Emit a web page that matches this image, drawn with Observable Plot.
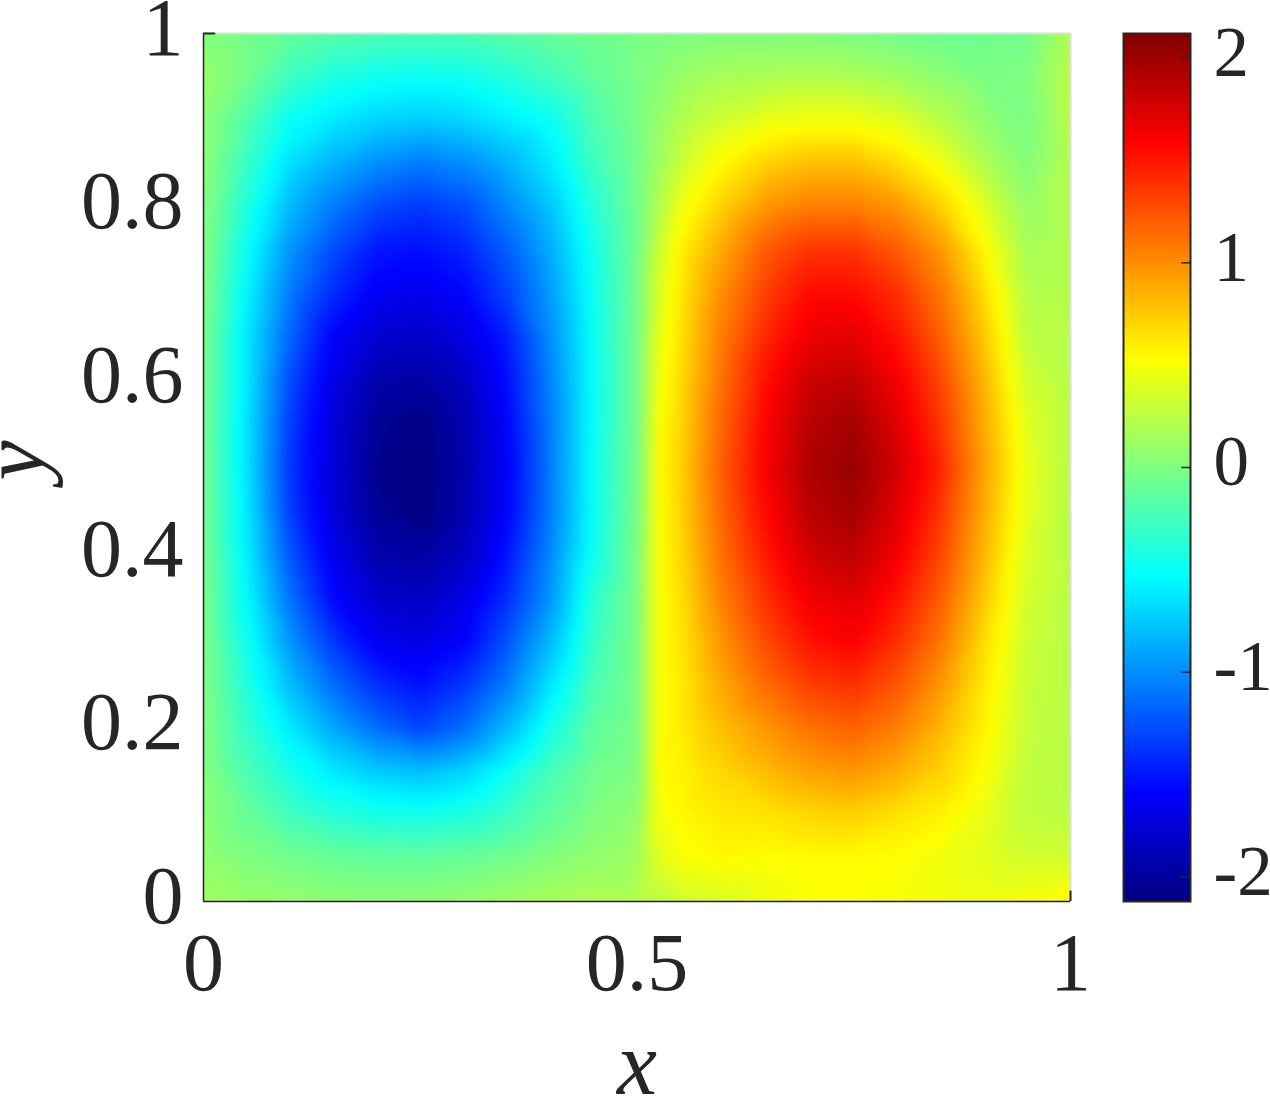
<!DOCTYPE html>
<html>
<head>
<meta charset="utf-8">
<script src="https://cdn.jsdelivr.net/npm/d3@7"></script>
<script src="https://cdn.jsdelivr.net/npm/@observablehq/plot@0.6"></script>
<style>
html,body{margin:0;padding:0;background:#fff;overflow:hidden}
#chart{position:relative;width:1270px;height:1096px;overflow:hidden}
#chart svg{position:absolute;top:0;background:transparent}
</style>
</head>
<body>
<div id="chart"></div>
<script>
// Field values, one list per row of constant y.
const xs = [0,.05,.1,.15,.2,.25,.3,.35,.4,.45,.5,.525,.55,.6,.65,.7,.75,.8,.85,.9,.95,1];
const y100 = [0,-.05,-.12,-.18,-.2,-.22,-.2,-.15,-.1,-.05,-.03,-.03,-.02,0,0,0,-.02,-.05,-.07,-.07,-.05,.2];
const y095 = [.1,-.05,-.28,-.4,-.47,-.49,-.47,-.38,-.26,-.12,-.02,.03,.1,.17,.19,.2,.19,.14,.06,-.02,0,.25];
const y090 = [.05,-.2,-.5,-.62,-.71,-.74,-.7,-.6,-.49,-.2,-.03,.08,.2,.33,.44,.48,.48,.4,.24,.07,-.02,.25];
const y085 = [.05,-.3,-.66,-.85,-1,-1.08,-1,-.85,-.62,-.27,-.05,.12,.3,.56,.72,.8,.8,.68,.48,.2,.02,.22];
const y080 = [.03,-.4,-.82,-1.08,-1.28,-1.36,-1.28,-1.03,-.77,-.37,-.05,.2,.46,.74,.97,1.07,1.07,.97,.73,.4,.1,.22];
const y075 = [.02,-.5,-.97,-1.28,-1.5,-1.54,-1.45,-1.2,-.87,-.44,-.05,.32,.58,.9,1.22,1.38,1.38,1.22,.97,.56,.17,.22];
const y070 = [0,-.57,-1.08,-1.42,-1.63,-1.68,-1.58,-1.32,-.94,-.47,-.05,.38,.62,1.02,1.34,1.55,1.55,1.4,1.1,.68,.22,.22];
const y065 = [-.02,-.62,-1.18,-1.6,-1.78,-1.82,-1.72,-1.47,-1,-.49,-.05,.44,.64,1.09,1.44,1.67,1.7,1.52,1.2,.76,.26,.23];
const y060 = [-.03,-.62,-1.28,-1.7,-1.93,-1.97,-1.85,-1.54,-1.04,-.5,-.05,.48,.67,1.14,1.54,1.8,1.85,1.64,1.3,.84,.33,.23];
const y055 = [-.04,-.64,-1.34,-1.75,-2.03,-2.1,-1.93,-1.59,-1.07,-.5,-.05,.53,.69,1.19,1.6,1.89,1.97,1.72,1.37,.88,.4,.23];
const y050 = [-.05,-.64,-1.37,-1.76,-2.06,-2.12,-1.95,-1.62,-1.08,-.49,-.04,.54,.71,1.22,1.62,1.93,2.02,1.78,1.44,.92,.44,.23];
const y045 = [-.04,-.62,-1.34,-1.75,-2.03,-2.12,-1.93,-1.59,-1.07,-.49,-.03,.53,.7,1.19,1.57,1.88,1.97,1.72,1.37,.88,.42,.23];
const y040 = [-.03,-.59,-1.24,-1.67,-1.93,-1.98,-1.85,-1.52,-1.02,-.47,-.02,.52,.68,1.14,1.5,1.78,1.86,1.64,1.3,.83,.38,.23];
const y035 = [-.02,-.54,-1.12,-1.57,-1.8,-1.85,-1.72,-1.4,-.97,-.35,-.02,.51,.65,1.07,1.4,1.65,1.72,1.52,1.2,.76,.35,.24];
const y030 = [-.01,-.47,-.97,-1.37,-1.64,-1.71,-1.6,-1.24,-.82,-.29,-.02,.52,.62,.99,1.29,1.52,1.6,1.4,1.1,.68,.32,.24];
const y025 = [0,-.4,-.8,-1.14,-1.4,-1.53,-1.37,-1.07,-.64,-.22,-.02,.52,.6,.9,1.15,1.34,1.4,1.24,.97,.62,.3,.24];
const y020 = [.02,-.32,-.62,-.9,-1.14,-1.3,-1.14,-.82,-.45,-.13,-.02,.53,.6,.8,.97,1.12,1.19,1.07,.84,.58,.29,.24];
const y015 = [.03,-.22,-.44,-.62,-.75,-.8,-.71,-.5,-.24,-.06,0,.53,.57,.7,.82,.92,.97,.87,.72,.53,.27,.24];
const y010 = [.04,-.1,-.26,-.37,-.44,-.45,-.41,-.29,-.13,0,.07,.5,.55,.62,.64,.69,.72,.65,.58,.44,.27,.25];
const y005 = [.08,0,-.05,-.1,-.12,-.12,-.1,-.05,.02,.08,.13,.4,.5,.55,.53,.54,.54,.53,.48,.42,.35,.35];
const y000 = [.13,.1,.08,.06,.05,.06,.08,.12,.17,.2,.2,.25,.33,.38,.46,.52,.52,.5,.48,.47,.5,.55];
const rows = [[1,y100],[.95,y095],[.9,y090],[.85,y085],[.8,y080],[.75,y075],[.7,y070],[.65,y065],[.6,y060],[.55,y055],[.5,y050],[.45,y045],[.4,y040],[.35,y035],[.3,y030],[.25,y025],[.2,y020],[.15,y015],[.1,y010],[.05,y005],[0,y000]];
const points = rows.flatMap(([y, vals]) => vals.map((v, i) => ({x: xs[i], y, v})));

const colorDomain = [-2.12,-1.59,-.53,.53,1.59,2.12];
const colorRange = ["#000080","#0000ff","#00ffff","#ffff00","#ff0000","#800000"];
const xTicks = [0,.5,1];
const yTicks = [0,.2,.4,.6,.8,1];
const barTicks = [-2,-1,0,1,2];

const ink = "#262626";
const serif = "Liberation Serif";
const chart = document.getElementById("chart");

const main = Plot.plot({
  width: 1270, height: 1096,
  marginLeft: 203, marginRight: 200, marginTop: 33, marginBottom: 195,
  x: {domain: [0,1]},
  y: {domain: [0,1]},
  color: {type: "linear", domain: colorDomain, range: colorRange},
  marks: [
    Plot.raster(points, {x: "x", y: "y", fill: "v", x1: 0, x2: 1, y1: 0, y2: 1, pixelSize: 1, interpolate: "barycentric", blur: 4}),
    Plot.ruleY([1], {stroke: "#dcdcdc", strokeWidth: 2}),
    Plot.ruleX([1], {stroke: "#dcdcdc", strokeWidth: 2}),
    Plot.ruleX([0], {stroke: ink, strokeWidth: 1.5}),
    Plot.ruleY([0], {stroke: ink, strokeWidth: 1.5}),
    Plot.ruleY([1], {x1: 0, x2: .014, stroke: ink, strokeWidth: 2}),
    Plot.ruleX([1], {y1: 0, y2: .012, stroke: ink, strokeWidth: 2}),
    Plot.axisX({ticks: xTicks, tickSize: 0, tickPadding: 30, fontSize: 82, fontFamily: serif, color: ink, label: null, tickFormat: d => String(d)}),
    Plot.axisY({ticks: yTicks, tickSize: 0, tickPadding: 20, fontSize: 82, fontFamily: serif, color: ink, label: null, tickFormat: d => String(d), dy: -5}),
    Plot.text(["x"], {x: () => .5, frameAnchor: "bottom", dy: 192, fontSize: 90, fontFamily: serif, fontStyle: "italic", fill: ink, text: d => d}),
    Plot.text(["y"], {y: () => .5, frameAnchor: "left", dx: -188, dy: 13, rotate: -90, fontSize: 90, fontFamily: serif, fontStyle: "italic", fill: ink, text: d => d})
  ]
});
main.style.left = "0px";
chart.appendChild(main);

const bar = Plot.plot({
  width: 170, height: 1096,
  marginLeft: 23, marginRight: 80, marginTop: 33, marginBottom: 195,
  x: {domain: [0,1], axis: null},
  y: {domain: [-2.12,2.12]},
  color: {type: "linear", domain: colorDomain, range: colorRange},
  marks: [
    Plot.raster({fill: (x, y) => y, x1: 0, x2: 1, y1: -2.12, y2: 2.12, pixelSize: 1}),
    Plot.frame({stroke: ink, strokeWidth: 2}),
    Plot.ruleY(barTicks, {x1: .87, x2: 1, stroke: ink, strokeWidth: 1.5}),
    Plot.axisY({anchor: "right", ticks: barTicks, tickSize: 0, tickPadding: 23, fontSize: 71, fontFamily: serif, color: ink, label: null, tickFormat: d => String(d), dy: -5})
  ]
});
bar.style.left = "1100px";
chart.appendChild(bar);
</script>
</body>
</html>
